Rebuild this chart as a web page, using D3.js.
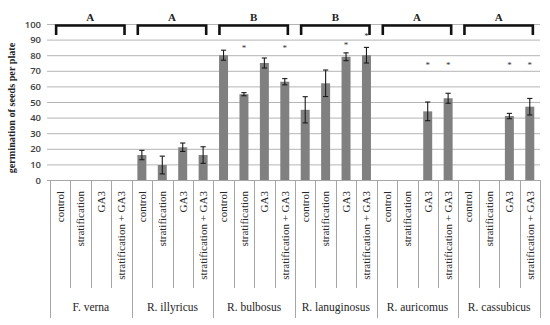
<!DOCTYPE html>
<html>
<head>
<meta charset="utf-8">
<script src="https://cdn.jsdelivr.net/npm/d3@7"></script>
<style>
  body { margin: 0; background: #fff; }
  svg { display: block; }
</style>
</head>
<body>
<svg id="chart" width="550" height="325"></svg>
<script>
/* global d3 */

// species groups and treatments
const groups = ['F. verna', 'R. illyricus', 'R. bulbosus', 'R. lanuginosus', 'R. auricomus', 'R. cassubicus']
const treatments = ['control', 'stratification', 'GA3', 'stratification + GA3']
const groupLetters = ['A', 'A', 'B', 'B', 'A', 'A']
const yTicks = [0, 10, 20, 30, 40, 50, 60, 70, 80, 90, 100]

// mean germination per plate (null = no bar)
const means = [
  [null, null, null, null],
  [16, 9.6, 21, 16],
  [80, 55, 75, 63],
  [45, 62, 79, 80],
  [null, null, 44, 52.4],
  [null, null, 41, 47]
]
// error bar half-length
const errors = [
  [null, null, null, null],
  [3, 5.7, 2.7, 5.3],
  [3.2, 1, 3.2, 2],
  [8.4, 8.5, 2.5, 5],
  [null, null, 6, 3.2],
  [null, null, 1.7, 5.3]
]
// height where the significance star sits (null = no star)
const stars = [
  [null, null, null, null],
  [null, null, null, null],
  [null, 86, null, 86],
  [null, null, 88, 93.5],
  [null, null, 75, 75],
  [null, null, 75, 75]
]

const plotLeft = 50
const plotRight = 540
const plotTop = 24
const plotBottom = 180

const rows = []
groups.forEach((g, gi) => {
  treatments.forEach((t, ti) => {
    rows.push({ key: gi + '-' + ti, group: g, gi: gi, ti: ti, treatment: t,
      value: means[gi][ti], err: errors[gi][ti], star: stars[gi][ti] })
  })
})

const svg = d3.select('#chart')

const x = d3.scaleBand()
  .domain(rows.map(d => d.key))
  .range([plotLeft, plotRight])
  .padding(0)

const y = d3.scaleLinear()
  .domain([0, 100])
  .range([plotBottom, plotTop])

// gridlines
svg.append('g')
  .attr('transform', 'translate(' + (plotLeft - 3) + ',0)')
  .call(d3.axisRight(y).tickValues(yTicks).tickSize(plotRight - plotLeft + 3).tickFormat(''))
  .call(g => g.select('.domain').remove())
  .call(g => g.selectAll('.tick line').attr('stroke', '#b5b5b5').attr('stroke-width', 1))

// y labels
svg.append('g')
  .attr('transform', 'translate(' + (plotLeft - 3) + ',0)')
  .call(d3.axisLeft(y).tickValues(yTicks).tickSize(0).tickPadding(6))
  .call(g => g.select('.domain').remove())
  .call(g => g.selectAll('text')
    .attr('font-family', '"Open Sans", sans-serif')
    .attr('font-size', 9.5)
    .attr('font-weight', 600)
    .attr('fill', '#404040'))

// y title
svg.append('text')
  .attr('transform', 'translate(15,' + 108 + ') rotate(-90)')
  .attr('text-anchor', 'middle')
  .attr('font-family', '"Liberation Serif", serif')
  .attr('font-weight', 'bold')
  .attr('font-size', 10.2)
  .attr('fill', '#222')
  .text('germination of seeds per plate')

// category separators below axis
const sep = svg.append('g').attr('stroke', '#a6a6a6').attr('stroke-width', 1)
rows.forEach(d => {
  const xs = Math.round(x(d.key)) + 0.5
  sep.append('line')
    .attr('x1', xs).attr('x2', xs)
    .attr('y1', plotBottom).attr('y2', d.ti === 0 ? 318 : 288)
})
sep.append('line')
  .attr('x1', plotRight + 0.5).attr('x2', plotRight + 0.5)
  .attr('y1', plotBottom).attr('y2', 318)

// bars
const barW = x.bandwidth() * 0.44
const withVal = rows.filter(d => d.value !== null)
svg.append('g')
  .selectAll('rect')
  .data(withVal)
  .join('rect')
  .attr('x', d => x(d.key) + (x.bandwidth() - barW) / 2)
  .attr('y', d => y(d.value))
  .attr('width', barW)
  .attr('height', d => y(0) - y(d.value))
  .attr('fill', '#808080')

// error bars
const eb = svg.append('g').attr('stroke', '#1a1a1a').attr('stroke-width', 1.1)
withVal.forEach(d => {
  const cx = x(d.key) + x.bandwidth() / 2
  eb.append('line').attr('x1', cx).attr('x2', cx)
    .attr('y1', y(d.value - d.err)).attr('y2', y(d.value + d.err))
  ;[d.value - d.err, d.value + d.err].forEach(v => {
    eb.append('line').attr('x1', cx - 2.6).attr('x2', cx + 2.6)
      .attr('y1', y(v)).attr('y2', y(v))
  })
})

// x axis line
svg.append('line')
  .attr('x1', plotLeft - 3).attr('x2', plotRight)
  .attr('y1', plotBottom + 0.5).attr('y2', plotBottom + 0.5)
  .attr('stroke', '#a6a6a6')

// stars
svg.append('g')
  .selectAll('text')
  .data(rows.filter(d => d.star !== null))
  .join('text')
  .attr('x', d => x(d.key) + x.bandwidth() / 2)
  .attr('y', d => y(d.star))
  .attr('dy', '0.55em')
  .attr('text-anchor', 'middle')
  .attr('font-family', '"Liberation Serif", serif')
  .attr('font-size', 9)
  .attr('fill', '#333')
  .text('*')

// treatment labels
svg.append('g')
  .selectAll('text')
  .data(rows)
  .join('text')
  .attr('transform', d => 'translate(' + (x(d.key) + x.bandwidth() / 2) + ',191) rotate(-90)')
  .attr('text-anchor', 'end')
  .attr('dy', '0.35em')
  .attr('font-family', '"Liberation Serif", serif')
  .attr('font-size', 11)
  .attr('fill', '#262626')
  .text(d => d.treatment)

// group labels, brackets, letters
const groupW = x.bandwidth() * treatments.length
groups.forEach((g, gi) => {
  const gx = x(gi + '-0')
  svg.append('text')
    .attr('x', gx + groupW / 2)
    .attr('y', 307)
    .attr('dy', '0.35em')
    .attr('text-anchor', 'middle')
    .attr('font-family', '"Liberation Serif", serif')
    .attr('font-size', 11.5)
    .attr('fill', '#262626')
    .text(g)

  const bx1 = gx + x.bandwidth() * 0.3
  const bx2 = gx + groupW - x.bandwidth() * 0.35
  svg.append('path')
    .attr('d', 'M' + bx1 + ',35V25.5H' + bx2 + 'V35')
    .attr('fill', 'none')
    .attr('stroke', '#111')
    .attr('stroke-width', 2.6)

  svg.append('text')
    .attr('x', (bx1 + bx2) / 2)
    .attr('y', 21)
    .attr('text-anchor', 'middle')
    .attr('font-family', '"Liberation Serif", serif')
    .attr('font-weight', 'bold')
    .attr('font-size', 11)
    .attr('fill', '#222')
    .text(groupLetters[gi])
})
</script>
</body>
</html>
